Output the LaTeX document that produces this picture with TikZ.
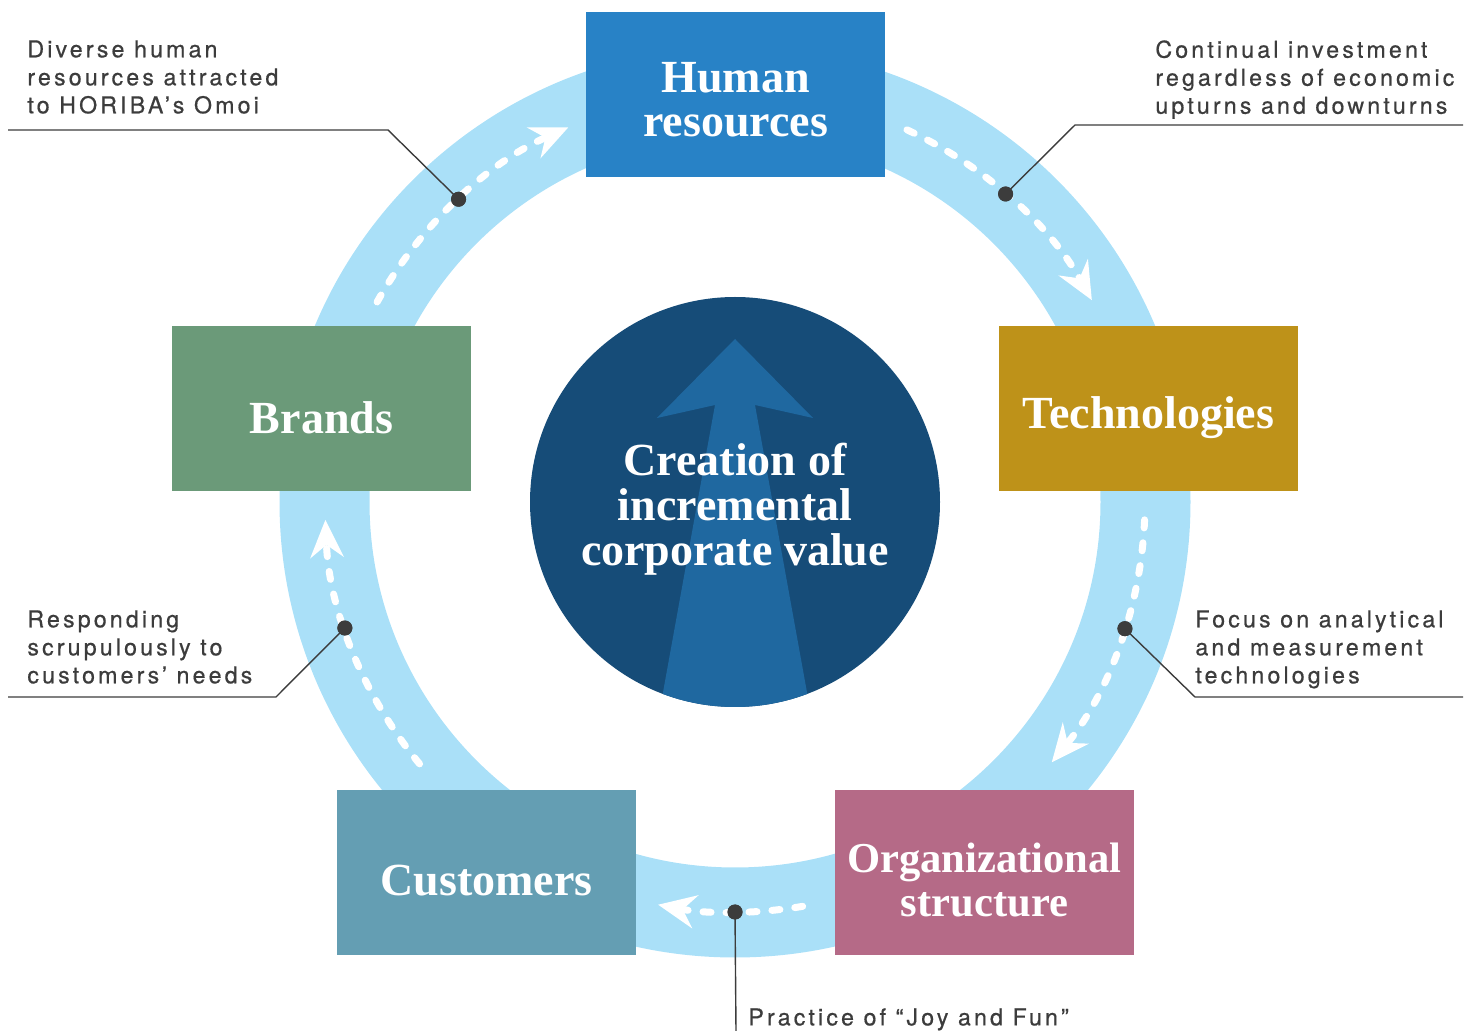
\documentclass[tikz,border=0pt]{standalone}
\usepackage{fontspec}
\setmainfont{Liberation Serif}
\newfontfamily\calloutfont[LetterSpace=13.5, FakeBold=0.6]{TeX Gyre Heros}
\usetikzlibrary{arrows.meta,calc}
\definecolor{ringc}{HTML}{AAE0F8}
\definecolor{darkc}{HTML}{164C78}
\definecolor{arrowc}{HTML}{1F68A0}
\definecolor{hrc}{HTML}{2882C6}
\definecolor{techc}{HTML}{BE9219}
\definecolor{orgc}{HTML}{B56A87}
\definecolor{custc}{HTML}{649EB3}
\definecolor{brandc}{HTML}{6B9A79}
\definecolor{txtc}{HTML}{3C3C3C}
\tikzset{
  ring/.style={draw=ringc, line width=45pt},
  box/.style={rectangle, inner sep=0pt, minimum width=149.5pt, minimum height=82.5pt},
  boxtext/.style={inner sep=0pt, text=white, align=center, font=\bfseries\fontsize{23}{22}\selectfont},
  centertext/.style={inner sep=0pt, text=white, align=center, font=\bfseries\fontsize{23}{22.5}\selectfont},
  flow/.style={draw=white, line width=3.5pt, dash pattern=on 4pt off 7.5pt, line cap=round,
    -{Stealth[length=19pt, width=17pt, inset=6.5pt, line width=0pt]}},
  dot/.style={circle, fill=txtc, inner sep=0pt, minimum size=7.5pt},
  leader/.style={draw=txtc, line width=0.7pt},
  callout/.style={inner sep=0pt, align=left, text=txtc, anchor=north west,
    font=\calloutfont\fontsize{11.6}{14}\selectfont},
}
\begin{document}
\begin{tikzpicture}[x=0.5pt, y=-0.5pt]
\useasboundingbox (0,0) rectangle (1474,1031);
\coordinate (c) at (735,502);
% ring
\draw[ring] (c) circle[radius=410.5];
% center circle with arrow
\fill[darkc] (c) circle[radius=205];
\begin{scope}
  \clip (c) circle[radius=205];
  \fill[arrowc] (735,339) -- (813,418) -- (755,405) -- (812,720) -- (658,720) -- (715,405) -- (657,418) -- cycle;
\end{scope}
\node[centertext] (value) at (735,509) {Creation of\\incremental\\corporate value};
% flow arrows
\draw[flow] (c) ++(-150.8:410) arc[start angle=-150.8, end angle=-114, radius=410];
\draw[flow] (c) ++(-65.2:410) arc[start angle=-65.2, end angle=-29.5, radius=410];
\draw[flow] (c) ++(2.5:410) arc[start angle=2.5, end angle=39.4, radius=410];
\draw[flow] (c) ++(80.5:410) arc[start angle=80.5, end angle=100.8, radius=410];
\draw[flow] (c) ++(140.3:410) arc[start angle=140.3, end angle=177.5, radius=410];
% boxes
\node[box, fill=hrc] (hr) at (735.5,94.5) {};
\node[box, fill=techc] (tech) at (1148.5,409) {};
\node[box, fill=orgc] (org) at (984.5,873) {};
\node[box, fill=custc] (cust) at (486.5,873) {};
\node[box, fill=brandc] (brand) at (321.5,409) {};
\node[boxtext] (hrt) at ($(hr)+(0,5)$) {Human\\resources};
\node[boxtext] (techt) at ($(tech)+(0,9)$) {Technologies};
\node[boxtext, font=\bfseries\fontsize{21.3}{22}\selectfont] (orgt) at ($(org)+(0,7)$) {Organizational\\structure};
\node[boxtext] (custt) at ($(cust)+(0,8)$) {Customers};
\node[boxtext] (brandt) at ($(brand)+(0,9)$) {Brands};
% leader endpoints
\coordinate (eTL) at (388,130);
\coordinate (lTL) at (8,130);
\coordinate (eTR) at (1075,125);
\coordinate (lTR) at (1463,125);
\coordinate (eR) at (1195,697);
\coordinate (lR) at (1463,697);
\coordinate (eL) at (276,697);
\coordinate (lL) at (8,697);
\coordinate (eB) at (736,1031);
% dots
\node[dot] (dTL) at ($(c)+(-132.4:410)$) {};
\node[dot] (dTR) at ($(c)+(-48.7:410)$) {};
\node[dot] (dR) at ($(c)+(18:410)$) {};
\node[dot] (dB) at ($(c)+(90:410)$) {};
\node[dot] (dL) at ($(c)+(162.1:410)$) {};
\draw[leader] (dTL.center) -- (eTL) -- (lTL);
\draw[leader] (dTR.center) -- (eTR) -- (lTR);
\draw[leader] (dR.center) -- (eR) -- (lR);
\draw[leader] (dL.center) -- (eL) -- (lL);
\draw[leader] (dB.center) -- (eB);
\node[dot] at (dTL) {};
\node[dot] at (dTR) {};
\node[dot] at (dR) {};
\node[dot] at (dB) {};
\node[dot] at (dL) {};
% callouts
\node[callout] (tTL) at (27,40) {Diverse human\\resources attracted\\to HORIBA’s Omoi};
\node[callout] (tTR) at (1155,40) {Continual investment\\regardless of economic\\upturns and downturns};
\node[callout] (tR) at (1195,610) {Focus on analytical\\and measurement\\technologies};
\node[callout] (tL) at (27,610) {Responding\\scrupulously to\\customers’ needs};
\node[callout] (tB) at (748,1008) {Practice of “Joy and Fun”};
\end{tikzpicture}
\end{document}
